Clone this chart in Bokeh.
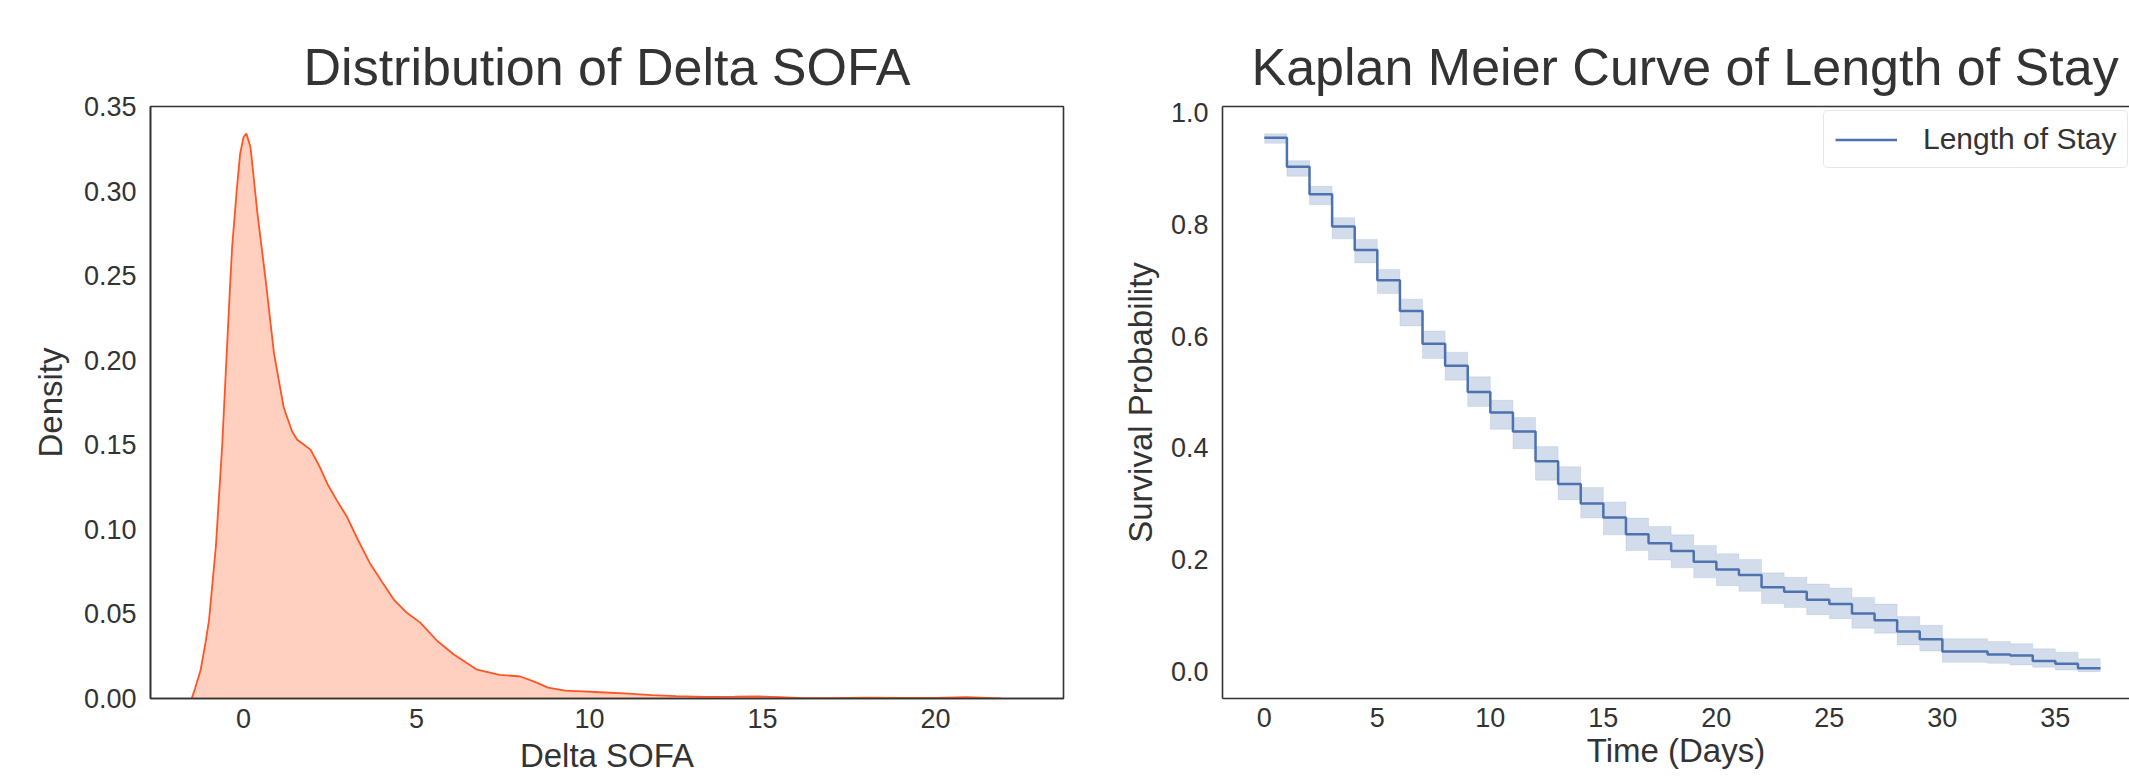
from bokeh.plotting import figure
from bokeh.layouts import row
from bokeh.models import FixedTicker, PrintfTickFormatter, LinearAxis
from bokeh.embed import file_html
from bokeh.resources import INLINE

# ---------------- data ----------------
# KDE of Delta SOFA
kde_x = [-1.5, -1.4, -1.24, -1.1, -1.0, -0.8, -0.62, -0.4, -0.33, -0.2, -0.1, 0.0, 0.08, 0.2,
         0.4, 0.64, 0.88, 1.16, 1.4, 1.55, 1.75, 1.94, 2.2, 2.42, 2.7, 3.0, 3.3, 3.65, 4.0,
         4.36, 4.7, 5.1, 5.6, 6.08, 6.75, 7.4, 8.0, 8.4, 8.8, 9.3, 9.8, 10.3, 11.0, 11.8,
         12.5, 13.3, 14.2, 14.9, 15.5, 16.2, 17.0, 18.0, 19.0, 20.0, 20.9, 21.5, 21.9]
kde_y = [0.0, 0.006, 0.017, 0.033, 0.046, 0.090, 0.149, 0.240, 0.267, 0.300, 0.322, 0.332, 0.334, 0.326,
         0.287, 0.247, 0.204, 0.172, 0.158, 0.153, 0.150, 0.147, 0.137, 0.127, 0.117, 0.107, 0.094, 0.080, 0.069,
         0.058, 0.051, 0.045, 0.034, 0.026, 0.017, 0.014, 0.013, 0.010, 0.0064, 0.0046, 0.0042, 0.0037, 0.0030, 0.0020,
         0.0014, 0.0010, 0.0011, 0.0012, 0.0008, 0.0002, 0.0002, 0.0005, 0.0003, 0.0004, 0.0008, 0.0004, 0.0]

# Kaplan-Meier estimate of length of stay
km_time = [0, 1, 2, 3, 4, 5, 6, 7, 8, 9, 10, 11, 12, 13, 14, 15, 16, 17, 18, 19, 20,
           21, 22, 23, 24, 25, 26, 27, 28, 29, 30, 32, 33, 34, 35, 36, 37]
km_surv = [0.955, 0.903, 0.854, 0.796, 0.754, 0.700, 0.645, 0.586, 0.547, 0.500, 0.463,
           0.429, 0.376, 0.335, 0.300, 0.275, 0.245, 0.229, 0.215, 0.196, 0.182,
           0.172, 0.150, 0.142, 0.128, 0.120, 0.103, 0.091, 0.071, 0.057, 0.035,
           0.030, 0.028, 0.018, 0.013, 0.005, 0.005]
km_upper = [0.962, 0.914, 0.868, 0.812, 0.773, 0.719, 0.666, 0.609, 0.571, 0.527, 0.485,
            0.454, 0.402, 0.366, 0.329, 0.303, 0.274, 0.259, 0.244, 0.225, 0.210,
            0.200, 0.176, 0.168, 0.156, 0.149, 0.132, 0.120, 0.098, 0.082, 0.058,
            0.053, 0.049, 0.040, 0.034, 0.022, 0.022]
km_lower = [0.945, 0.886, 0.835, 0.774, 0.731, 0.676, 0.618, 0.560, 0.521, 0.474, 0.433,
            0.398, 0.342, 0.307, 0.274, 0.244, 0.216, 0.199, 0.185, 0.167, 0.153,
            0.143, 0.121, 0.114, 0.101, 0.094, 0.077, 0.068, 0.047, 0.036, 0.016,
            0.014, 0.011, 0.007, 0.002, -0.001, -0.001]

kde_xticks = [0, 5, 10, 15, 20]
kde_yticks = [0.0, 0.05, 0.10, 0.15, 0.20, 0.25, 0.30, 0.35]
km_xticks = [0, 5, 10, 15, 20, 25, 30, 35]
km_yticks = [0.0, 0.2, 0.4, 0.6, 0.8, 1.0]

FONT = "Liberation Sans"
TXT = "#333333"
FRAME = "#333333"
ORANGE = "#FF4500"
ORANGE_LINE = "#FF5524"
BLUE = "#4C72B0"


def style(p, xlabel, ylabel, xticks, yticks, yfmt, ylab_standoff, xlab_standoff):
    p.xgrid.visible = False
    p.ygrid.visible = False
    p.title.text_font = FONT
    p.title.text_font_size = "52px"
    p.title.text_font_style = "normal"
    p.title.text_color = TXT
    p.title.standoff = 22
    for ax in (p.xaxis[0], p.yaxis[0]):
        ax.major_tick_line_color = None
        ax.minor_tick_line_color = None
        ax.major_tick_out = 0
        ax.major_tick_in = 0
        ax.major_label_text_font = FONT
        ax.major_label_text_font_size = "27px"
        ax.major_label_text_color = TXT
        ax.major_label_text_line_height = 1.0
        ax.axis_label_text_font = FONT
        ax.axis_label_text_font_size = "33px"
        ax.axis_label_text_font_style = "normal"
        ax.axis_label_text_color = TXT
        ax.axis_label_text_line_height = 1.0
        ax.axis_line_color = FRAME
        ax.axis_line_width = 1.6
    p.xaxis[0].axis_label = xlabel
    p.yaxis[0].axis_label = ylabel
    p.xaxis[0].ticker = FixedTicker(ticks=xticks)
    p.yaxis[0].ticker = FixedTicker(ticks=yticks)
    p.yaxis[0].formatter = PrintfTickFormatter(format=yfmt)
    p.xaxis[0].major_label_standoff = 10
    p.xaxis[0].axis_label_standoff = xlab_standoff
    p.yaxis[0].major_label_standoff = 14
    p.yaxis[0].axis_label_standoff = ylab_standoff
    p.background_fill_color = "white"
    p.border_fill_color = "white"


# ---------------- left: KDE ----------------
p1 = figure(width=1100, height=777, x_range=(-2.69, 23.7), y_range=(0, 0.35),
            output_backend="svg", toolbar_location=None,
            min_border_left=150, min_border_right=37, min_border_top=106, min_border_bottom=79,
            title="Distribution of Delta SOFA")
p1.varea(x=kde_x, y1=0, y2=kde_y, fill_color=ORANGE, fill_alpha=0.25)
p1.line(kde_x, kde_y, line_color=ORANGE_LINE, line_width=1.8)
style(p1, "Delta SOFA", "Density", kde_xticks, kde_yticks, "%.2f", 12, 6)
p1.title.align = "center"
p1.outline_line_color = FRAME
p1.outline_line_width = 1.6

# ---------------- right: Kaplan-Meier ----------------
p2 = figure(width=1029, height=777, x_range=(-1.85, 38.28), y_range=(-0.049, 1.011),
            output_backend="svg", toolbar_location=None,
            min_border_left=122, min_border_right=0, min_border_top=105, min_border_bottom=74,
            title="Kaplan Meier Curve of Length of Stay")
p2.varea_step(x=km_time, y1=km_lower, y2=km_upper, step_mode="after",
              fill_color=BLUE, fill_alpha=0.25)
p2.step(km_time, km_upper, mode="after", line_color=BLUE, line_alpha=0.12, line_width=1)
p2.step(km_time, km_lower, mode="after", line_color=BLUE, line_alpha=0.12, line_width=1)
p2.step(km_time, km_surv, mode="after", line_color=BLUE, line_width=2.5,
        legend_label="Length of Stay")
style(p2, "Time (Days)", "Survival Probability", km_xticks, km_yticks, "%.1f", 9, 2)
p2.xaxis[0].major_label_standoff = 9
p2.title.align = "left"
p2.title.offset = 29
p2.outline_line_color = None
top_axis = LinearAxis(ticker=FixedTicker(ticks=[]), axis_line_color=FRAME, axis_line_width=1.6,
                      major_tick_line_color=None, minor_tick_line_color=None,
                      major_tick_out=0, major_tick_in=0, major_label_standoff=0)
p2.add_layout(top_axis, "above")

lg = p2.legend[0]
lg.location = (601, 530)
lg.label_text_font = FONT
lg.label_text_font_size = "30px"
lg.label_text_color = TXT
lg.glyph_width = 62
lg.glyph_height = 29
lg.label_height = 29
lg.label_standoff = 26
lg.padding = 11
lg.spacing = 0
lg.margin = 0
lg.border_line_color = "#d0d0d0"
lg.border_line_width = 1
lg.background_fill_color = "white"
lg.background_fill_alpha = 1.0
try:
    lg.border_radius = 5
except Exception:
    pass

layout = row(p1, p2)
open("out.html", "w").write(file_html(layout, INLINE))
